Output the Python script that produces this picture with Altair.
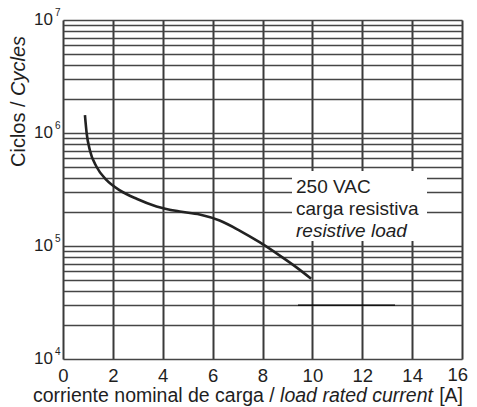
import altair as alt
import pandas as pd

# curve
cur_x = [0.88, 0.95, 1.08, 1.35, 1.75, 2.28, 2.95, 3.75, 4.68, 5.48, 6.28, 7.08, 7.88, 8.68, 9.35, 9.95]
cur_y = [1.44e6, 9.9e5, 7.0e5, 5.0e5, 3.82e5, 3.11e5, 2.62e5, 2.24e5, 2.02e5, 1.9e5, 1.68e5, 1.37e5, 1.08e5, 8.26e4, 6.5e4, 5.13e4]

x_ticks = [0, 2, 4, 6, 8, 10, 12, 14, 16]
x_last = [16]
y_decades = [1e4, 1e5, 1e6, 1e7]
y_exp = ["4", "5", "6", "7"]
y_grid = [k * d for d in [1e4, 1e5, 1e6] for k in range(1, 10)] + [1e7]

note_lines = ["250 VAC", "carga resistiva", "resistive load"]
x_title = ["corriente nominal de carga /", "load rated current", "[A]"]
y_title = ["Ciclos /", "Cycles"]
artifact_y = [3e4]

FONT = "Liberation Sans"
TXT = "#1e1e1e"

xs = alt.Scale(domain=[0, 16], nice=False)
ys = alt.Scale(type="log", domain=[1e4, 1e7], nice=False)

y_axis = alt.Axis(
    values=y_grid, title=None, ticks=False, domain=False, labels=False,
    grid=True, gridColor="#454545", gridWidth=1.7, gridOpacity=1)
x_axis = alt.Axis(
    values=x_ticks, title=None, ticks=False, domain=False, grid=True,
    gridColor="#3a3a3a", gridWidth=2, gridOpacity=1,
    labelFont=FONT, labelFontSize=18.5, labelColor=TXT, labelPadding=7,
    labelFlush=False, labelExpr="datum.value == 16 ? '' : datum.label")

curve = alt.Chart(pd.DataFrame({"x": cur_x, "y": cur_y})).mark_line(
    interpolate="monotone", color="#222222", strokeWidth=2.6
).encode(
    x=alt.X("x:Q", scale=xs, axis=x_axis),
    y=alt.Y("y:Q", scale=ys, axis=y_axis),
)

box = alt.Chart(pd.DataFrame({"a": [0]})).mark_rect(fill="white", stroke=None).encode(
    x=alt.value(229), x2=alt.value(364), y=alt.value(151), y2=alt.value(221)
)

artifact = alt.Chart(pd.DataFrame({"y": artifact_y})).mark_rule(
    color="#000000", strokeWidth=1.3
).encode(y=alt.Y("y:Q", scale=ys, axis=y_axis), x=alt.value(235), x2=alt.value(332))

notes = []
for i, (t, st) in enumerate(zip(note_lines, ["normal", "normal", "italic"])):
    notes.append(
        alt.Chart(pd.DataFrame({"t": [t]})).mark_text(
            align="left", baseline="alphabetic", font=FONT, fontSize=19,
            fontStyle=st, color=TXT
        ).encode(text="t:N", x=alt.value(233), y=alt.value(173 + 22 * i))
    )

ylab = alt.Chart(pd.DataFrame({"y": y_decades, "b": ["10"] * 4})).mark_text(
    align="right", baseline="middle", font=FONT, fontSize=17, color=TXT
).encode(y=alt.Y("y:Q", scale=ys, axis=y_axis), x=alt.value(-10), text="b:N")

yexp = alt.Chart(pd.DataFrame({"y": y_decades, "e": y_exp})).mark_text(
    align="left", baseline="middle", font=FONT, fontSize=10, color=TXT, dy=-7
).encode(y=alt.Y("y:Q", scale=ys, axis=y_axis), x=alt.value(-8), text="e:N")

lastlab = alt.Chart(pd.DataFrame({"x": x_last, "t": ["16"]})).mark_text(
    align="right", baseline="top", font=FONT, fontSize=18.5, color=TXT, dx=6
).encode(x=alt.X("x:Q", scale=xs, axis=x_axis), y=alt.value(346), text="t:N")

xt = []
for t, st, px in zip(x_title, ["normal", "italic", "normal"], [-30, 217.1, 376.2]):
    xt.append(
        alt.Chart(pd.DataFrame({"t": [t]})).mark_text(
            align="left", baseline="alphabetic", font=FONT, fontSize=19.5,
            fontStyle=st, color=TXT
        ).encode(text="t:N", x=alt.value(px), y=alt.value(382))
    )

yt = []
for t, st, py in zip(y_title, ["normal", "italic"], [147, 75.9]):
    yt.append(
        alt.Chart(pd.DataFrame({"t": [t]})).mark_text(
            align="left", baseline="alphabetic", font=FONT, fontSize=20,
            fontStyle=st, color=TXT, angle=270
        ).encode(text="t:N", x=alt.value(-38), y=alt.value(py))
    )

chart = alt.layer(curve, box, artifact, *notes, ylab, yexp, lastlab, *xt, *yt).properties(
    width=399, height=339,
    padding={"left": 55, "top": 12, "right": 7, "bottom": 49},
    autosize=alt.AutoSizeParams(type="none"),
).configure_view(stroke=None).configure(background="white")

chart.save("out.html", embed_options={"renderer": "svg", "actions": False})
